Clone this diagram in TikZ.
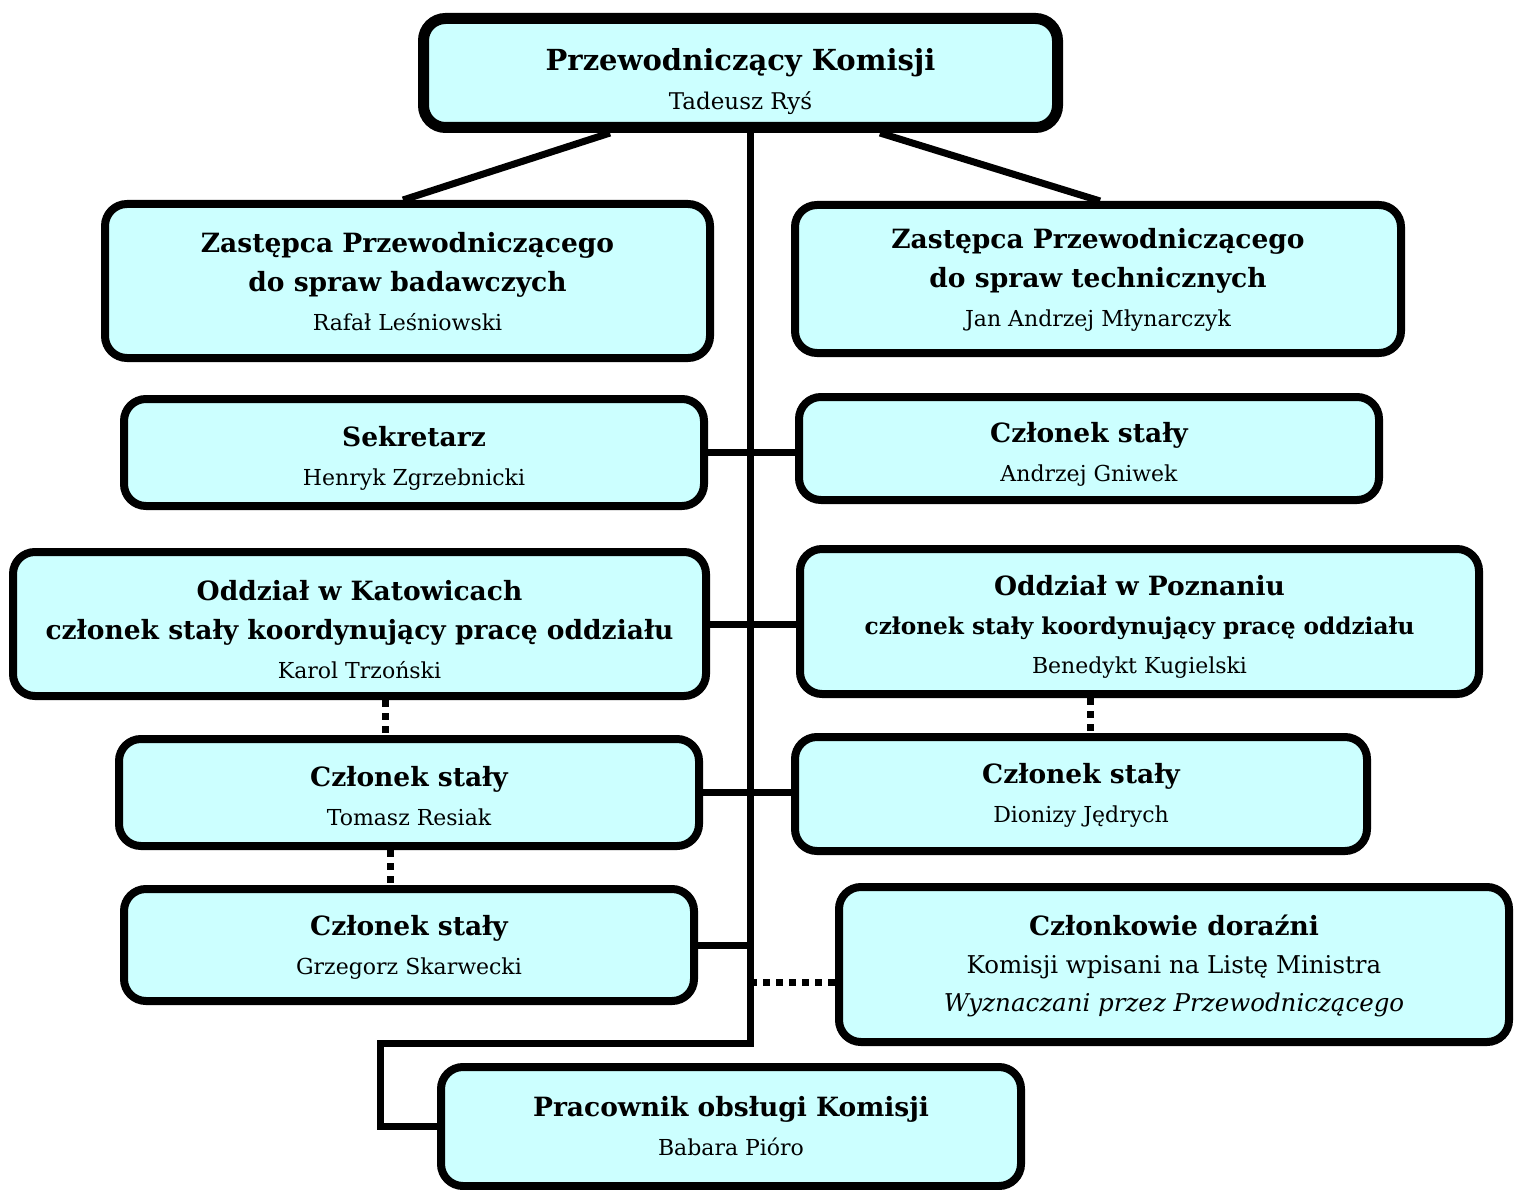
\documentclass[tikz,border=0pt]{standalone}
\usepackage{fontspec}
\setmainfont{DejaVu Serif}
\usetikzlibrary{backgrounds}
\definecolor{boxfill}{HTML}{CCFFFF}
\newcommand\btitle[1]{{\fontsize{26.5}{39}\selectfont\bfseries #1}}
\newcommand\bbig[1]{{\fontsize{29}{39}\selectfont\bfseries #1}}
\newcommand\bsmall[1]{{\fontsize{23.2}{39}\selectfont\bfseries #1}}
\begin{document}
\begin{tikzpicture}[x=1pt,y=-1pt,
  box/.style={draw, line width=8pt, fill=boxfill, rounded corners=22pt, inner sep=0pt},
  txt/.style={align=center, inner sep=0pt, font=\fontsize{22}{39}\selectfont},
  conn/.style={line width=7pt},
  dotconn/.style={line width=7pt, dash pattern=on 7pt off 6pt}]
\useasboundingbox (0,0) rectangle (1515,1190);
% boxes
\node[box, line width=11pt, minimum width=634pt, minimum height=109pt] (top) at (740.5,73) {};
\node[box, minimum width=605pt, minimum height=154pt] (dl) at (407.5,281) {};
\node[box, minimum width=606pt, minimum height=148pt] (dr) at (1098,279) {};
\node[box, minimum width=580pt, minimum height=107pt] (sek) at (414,452.5) {};
\node[box, minimum width=580pt, minimum height=103pt] (gn) at (1089,448.5) {};
\node[box, minimum width=693pt, minimum height=144pt] (kat) at (359.5,624) {};
\node[box, minimum width=679pt, minimum height=145pt] (poz) at (1139.5,621.5) {};
\node[box, minimum width=580pt, minimum height=107pt] (res) at (409,792.5) {};
\node[box, minimum width=572pt, minimum height=114pt] (jed) at (1081,794) {};
\node[box, minimum width=570pt, minimum height=112pt] (ska) at (409,945) {};
\node[box, minimum width=670pt, minimum height=155pt] (cd) at (1174,964.5) {};
\node[box, minimum width=580pt, minimum height=119pt] (pr) at (731,1126.5) {};
% texts
\node[txt, font=\fontsize{23}{39}\selectfont] (top-t) at (740.5,81.5)
  {\bbig{Przewodniczący Komisji}\\Tadeusz Ryś};
\node[txt] (dl-t) at (407.5,282)
  {\btitle{Zastępca Przewodniczącego}\\\btitle{do spraw badawczych}\\Rafał Leśniowski};
\node[txt] (dr-t) at (1098,280)
  {\btitle{Zastępca Przewodniczącego}\\\btitle{do spraw technicznych}\\Jan Andrzej Młynarczyk};
\node[txt] (sek-t) at (414,458)
  {\btitle{Sekretarz}\\Henryk Zgrzebnicki};
\node[txt] (gn-t) at (1089,454.5)
  {\btitle{Członek stały}\\Andrzej Gniwek};
\node[txt] (kat-t) at (359.5,630)
  {\btitle{Oddział w Katowicach}\\\btitle{członek stały koordynujący pracę oddziału}\\Karol Trzoński};
\node[txt] (poz-t) at (1139.5,626.5)
  {\btitle{Oddział w Poznaniu}\\\bsmall{członek stały koordynujący pracę oddziału}\\Benedykt Kugielski};
\node[txt] (res-t) at (409,796.5)
  {\btitle{Członek stały}\\Tomasz Resiak};
\node[txt] (jed-t) at (1081,795)
  {\btitle{Członek stały}\\Dionizy Jędrych};
\node[txt] (ska-t) at (409,947.5)
  {\btitle{Członek stały}\\Grzegorz Skarwecki};
\node[txt, font=\fontsize{24.5}{38}\selectfont] (cd-t) at (1174,966)
  {\btitle{Członkowie doraźni}\\Komisji wpisani na Listę Ministra\\\textit{Wyznaczani przez Przewodniczącego}};
\node[txt] (pr-t) at (731,1126)
  {\btitle{Pracownik obsługi Komisji}\\Babara Pióro};
\coordinate (t1) at (750,1043);
\coordinate (t2) at (380,1043);
\coordinate (d1) at (750,982);
\begin{scope}[on background layer]
  \draw[conn] (top.south -| t1) -- (t1) -- (t2) |- (pr.west);
  \draw[conn] (top.south -| 610,0) -- (dl.north -| 403,0);
  \draw[conn] (top.south -| 880,0) -- (dr.north -| 1100,0);
  \draw[conn] (sek.east) -- (sek.east -| gn.west);
  \draw[conn] (kat.east) -- (kat.east -| poz.west);
  \draw[conn] (res.east) -- (res.east -| jed.west);
  \draw[conn] (ska.east) -- (ska.east -| t1);
  \draw[dotconn] (d1) -- (d1 -| cd.west);
  \draw[dotconn] (kat.south -| 385,0) -- (res.north -| 385,0);
  \draw[dotconn] (res.south -| 390,0) -- (ska.north -| 390,0);
  \draw[dotconn] (poz.south -| 1090,0) -- (jed.north -| 1090,0);
\end{scope}
\end{tikzpicture}
\end{document}
